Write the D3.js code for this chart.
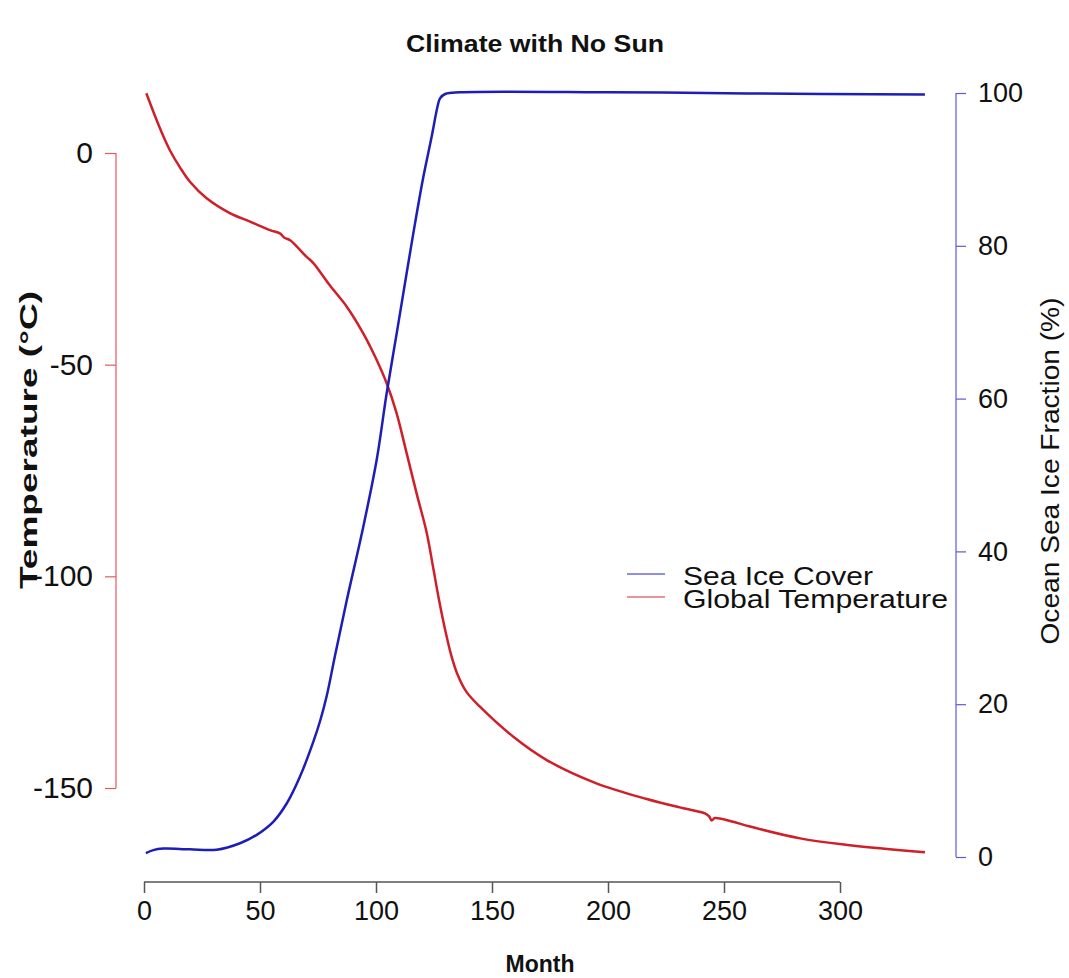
<!DOCTYPE html>
<html>
<head>
<meta charset="utf-8">
<script src="https://cdn.jsdelivr.net/npm/d3@7"></script>
<style>
  body { margin: 0; background: #fff; }
  text { font-family: "Liberation Sans", Arial, Helvetica, sans-serif; }
</style>
</head>
<body>
<svg id="chart" width="1069" height="978"></svg>
<script>
// data
var tempMonths = [1, 4.7, 8.3, 11.2, 15.5, 19.8, 27, 37, 45.7, 54.3, 58.6, 60.5, 63, 70, 73, 80, 87.4, 94.5, 100.3, 104.6, 108.9, 113.2, 117.5, 121.9, 124.5, 126.9, 129.8, 132.5, 135, 139, 144.8, 159.2, 173.6, 195, 216.7, 232.5, 241.8, 243.6, 244.7, 246, 252.6, 261.2, 282.8, 304.3, 336.6];
var temperature = [14.1, 8.8, 4.0, 0.6, -3.4, -6.8, -10.7, -14.2, -16.2, -18.2, -19, -20, -20.6, -24.5, -26, -31.2, -36.3, -42.6, -48.9, -54.4, -61.5, -70.9, -80.4, -89.8, -97.5, -104.8, -112.6, -118.8, -123, -127.3, -130.8, -137.9, -143.4, -148.9, -152.6, -154.8, -156, -156.7, -157.7, -157.1, -157.8, -159.1, -161.9, -163.5, -165.2];

var iceMonths = [0.8, 4, 8.3, 19.8, 31.3, 41.4, 48.6, 55.7, 61.5, 67.2, 73, 76, 78.7, 82.3, 87.4, 94.5, 100.3, 104.6, 108.9, 113.2, 116.8, 120.4, 124, 126.5, 127.6, 130, 136.2, 200, 260, 336.6];
var seaIce = [0.5, 0.9, 1.1, 1.0, 0.95, 1.8, 2.9, 4.6, 7.0, 10.5, 15.1, 17.9, 21.0, 26.3, 33.6, 43.2, 52, 60.7, 68.5, 76.4, 82.9, 89, 94.3, 98.2, 99.3, 99.9, 100.1, 100.1, 99.95, 99.8];

var monthTicks = [0, 50, 100, 150, 200, 250, 300];
var tempTicks = [0, -50, -100, -150];
var iceTicks = [0, 20, 40, 60, 80, 100];
var legendLabels = ["Sea Ice Cover", "Global Temperature"];

var svg = d3.select("#chart");

var x = d3.scaleLinear().domain([0, 300]).range([144, 840]);
var yTemp = d3.scaleLinear().domain([0, -150]).range([153, 788]);
var yIce = d3.scaleLinear().domain([0, 100]).range([857, 93]);

var red = "#cf1f29", blue = "#1e1eb6";

// ---- axes ----
var xAxis = svg.append("g").attr("transform", "translate(0,882)")
    .call(d3.axisBottom(x).tickValues(monthTicks).tickSize(11).tickPadding(8));
xAxis.select(".domain").attr("d", "M144,0H840").attr("stroke", "#555").attr("stroke-width", 1.5);
xAxis.selectAll(".tick line").attr("stroke", "#555").attr("stroke-width", 1.5);
xAxis.selectAll("text").attr("font-size", 27).attr("fill", "#111").attr("font-family", "Liberation Sans, Arial, sans-serif");

var lAxis = svg.append("g").attr("transform", "translate(116,0)")
    .call(d3.axisLeft(yTemp).tickValues(tempTicks).tickSize(11).tickPadding(12).tickFormat(d3.format("d")));
lAxis.select(".domain").attr("d", "M0,153V788").attr("stroke", "#e05a60").attr("stroke-width", 1.2);
lAxis.selectAll(".tick line").attr("stroke", "#e05a60").attr("stroke-width", 1.2);
lAxis.selectAll("text").attr("font-size", 30).attr("fill", "#111").attr("font-family", "Liberation Sans, Arial, sans-serif")
    .text(function(d) { return d < 0 ? "-" + Math.abs(d) : d; });

var rAxis = svg.append("g").attr("transform", "translate(956,0)")
    .call(d3.axisRight(yIce).tickValues(iceTicks).tickSize(10).tickPadding(12));
rAxis.select(".domain").attr("d", "M0,93V857").attr("stroke", "#5a5ad8").attr("stroke-width", 1.2);
rAxis.selectAll(".tick line").attr("stroke", "#5a5ad8").attr("stroke-width", 1.2);
rAxis.selectAll("text").attr("font-size", 27).attr("fill", "#111").attr("font-family", "Liberation Sans, Arial, sans-serif");

// ---- lines ----
var tempLine = d3.line()
    .x(function(d, i) { return x(tempMonths[i]); })
    .y(function(d) { return yTemp(d); })
    .curve(d3.curveCatmullRom.alpha(0.5));
var iceLine = d3.line()
    .x(function(d, i) { return x(iceMonths[i]); })
    .y(function(d) { return yIce(d); })
    .curve(d3.curveCatmullRom.alpha(0.5));

svg.append("path").datum(temperature).attr("d", tempLine)
    .attr("fill", "none").attr("stroke", red).attr("stroke-width", 2.5);
svg.append("path").datum(seaIce).attr("d", iceLine)
    .attr("fill", "none").attr("stroke", blue).attr("stroke-width", 2.5);

// ---- legend ----
var legColors = ["#6a6adc", "#e07078"];
var legY = [574, 597];
var legLen = [190, 265];
var leg = svg.append("g");
leg.selectAll("line").data(legendLabels).enter().append("line")
    .attr("x1", 627).attr("x2", 665)
    .attr("y1", function(d, i) { return legY[i]; })
    .attr("y2", function(d, i) { return legY[i]; })
    .attr("stroke", function(d, i) { return legColors[i]; })
    .attr("stroke-width", 1.3);
leg.selectAll("text").data(legendLabels).enter().append("text")
    .attr("x", 683)
    .attr("y", function(d, i) { return legY[i] + 11; })
    .attr("font-size", 25)
    .attr("fill", "#111")
    .attr("textLength", function(d, i) { return legLen[i]; })
    .attr("lengthAdjust", "spacingAndGlyphs")
    .text(function(d) { return d; });

// ---- titles ----
svg.append("text").attr("x", 535).attr("y", 52).attr("text-anchor", "middle")
    .attr("font-size", 23).attr("font-weight", "bold").attr("fill", "#111")
    .attr("textLength", 258).attr("lengthAdjust", "spacingAndGlyphs")
    .text("Climate with No Sun");

svg.append("text").attr("x", 540).attr("y", 972).attr("text-anchor", "middle")
    .attr("font-size", 23).attr("font-weight", "bold").attr("fill", "#111")
    .text("Month");

svg.append("text").attr("transform", "translate(37,440) rotate(-90)").attr("text-anchor", "middle")
    .attr("font-size", 24).attr("font-weight", "bold").attr("fill", "#111")
    .attr("textLength", 298).attr("lengthAdjust", "spacingAndGlyphs")
    .text("Temperature (°C)");

svg.append("text").attr("transform", "translate(1059,471) rotate(-90)").attr("text-anchor", "middle")
    .attr("font-size", 25).attr("fill", "#111")
    .attr("textLength", 347).attr("lengthAdjust", "spacingAndGlyphs")
    .text("Ocean Sea Ice Fraction (%)");
</script>
</body>
</html>
